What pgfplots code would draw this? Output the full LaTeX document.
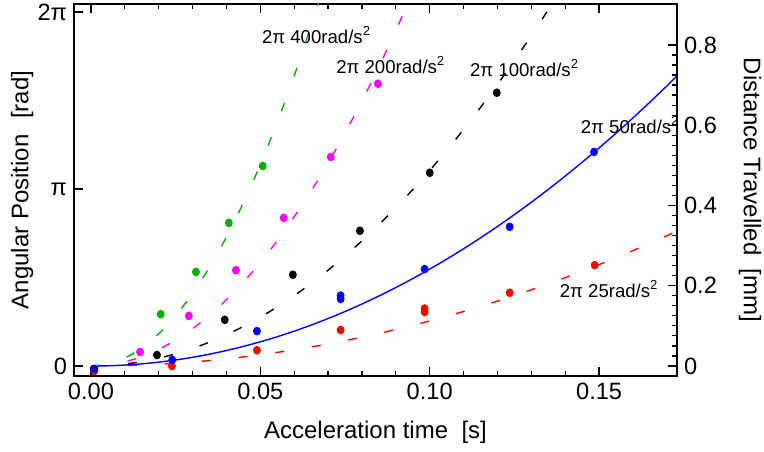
\documentclass[border=0pt]{standalone}
\usepackage{fontspec}
\setmainfont{Liberation Sans}
\usepackage{pgfplots}
\pgfplotsset{compat=1.18}
\definecolor{mgreen}{RGB}{0,175,0}
\definecolor{mmag}{RGB}{255,0,255}

\pgfplotsset{
  common/.style={scale only axis, width=301.5pt, height=186pt,
    xmin=-0.005, xmax=0.173,
    axis line style={line width=1pt},
    tick align=inside,
    major tick length=4.5pt, minor tick length=2.5pt,
    tick style={black, line width=0.6pt},
    tick label style={font=\fontsize{11.8}{14}\selectfont},
    label style={font=\fontsize{12}{14}\selectfont},
    /pgf/number format/assume math mode=true},
  dcurve/.style={line width=0.7pt, dash pattern=on 4.5pt off 14pt, smooth},
  dots/.style={only marks, mark=*, mark size=1.95pt, mark options={xscale=0.9}},
}
\tikzset{note/.style={anchor=west, inner sep=0pt, font=\fontsize{9.3}{11}\selectfont}}

\begin{document}
\begin{tikzpicture}
\begin{axis}[common, name=ax,
  ymin=-0.177, ymax=6.425,
  xtick pos=both, ytick pos=left,
  xtick={0,0.05,0.1,0.15}, minor x tick num=4,
  scaled x ticks=false,
  xticklabel style={/pgf/number format/.cd, fixed, fixed zerofill, precision=2},
  ytick={0,3.14159,6.28319}, yticklabels={0,π,2π}, minor y tick num=17,
  xlabel={Acceleration time\ \ [s]},
  ylabel={Angular Position\hspace{0.65em}[rad]},
  xlabel style={at={(axis description cs:0.5,-0.15)}, anchor=center},
  ylabel style={at={(axis description cs:-0.086,0.5)}, anchor=center},
]
% fitted curves
\addplot[red, dcurve] coordinates {(0,0) (0.005,0.002) (0.01,0.008) (0.015,0.018) (0.02,0.032) (0.025,0.05) (0.03,0.072) (0.035,0.098) (0.04,0.128) (0.045,0.162) (0.05,0.2) (0.055,0.242) (0.06,0.288) (0.065,0.338) (0.07,0.392) (0.075,0.45) (0.08,0.512) (0.085,0.578) (0.09,0.648) (0.095,0.722) (0.1,0.8) (0.105,0.882) (0.11,0.968) (0.115,1.058) (0.12,1.152) (0.125,1.25) (0.13,1.352) (0.135,1.458) (0.14,1.568) (0.145,1.682) (0.15,1.8) (0.155,1.922) (0.16,2.048) (0.165,2.178) (0.17,2.312) (0.175,2.45)};
\addplot[blue, line width=0.7pt, smooth] coordinates {(0,0) (0.005,0.0043) (0.01,0.0172) (0.015,0.0387) (0.02,0.0688) (0.025,0.1075) (0.03,0.1548) (0.035,0.2107) (0.04,0.2752) (0.045,0.3483) (0.05,0.43) (0.055,0.5203) (0.06,0.6192) (0.065,0.7267) (0.07,0.8428) (0.075,0.9675) (0.08,1.1008) (0.085,1.2427) (0.09,1.3932) (0.095,1.5523) (0.1,1.72) (0.105,1.8963) (0.11,2.0812) (0.115,2.2747) (0.12,2.4768) (0.125,2.6875) (0.13,2.9068) (0.135,3.1347) (0.14,3.3712) (0.145,3.6163) (0.15,3.87) (0.155,4.1323) (0.16,4.4032) (0.165,4.6827) (0.17,4.9708) (0.175,5.2675)};
\addplot[black, dcurve] coordinates {(0,0) (0.005,0.008675) (0.01,0.0347) (0.015,0.078075) (0.02,0.1388) (0.025,0.216875) (0.03,0.3123) (0.035,0.425075) (0.04,0.5552) (0.045,0.702675) (0.05,0.8675) (0.055,1.049675) (0.06,1.2492) (0.065,1.466075) (0.07,1.7003) (0.075,1.951875) (0.08,2.2208) (0.085,2.507075) (0.09,2.8107) (0.095,3.131675) (0.1,3.47) (0.105,3.825675) (0.11,4.1987) (0.115,4.589075) (0.12,4.9968) (0.125,5.421875) (0.13,5.8643) (0.135,6.324075) (0.14,6.8012)};
\addplot[mmag, dcurve] coordinates {(0,0) (0.005,0.018375) (0.01,0.0735) (0.015,0.165375) (0.02,0.294) (0.025,0.459375) (0.03,0.6615) (0.035,0.900375) (0.04,1.176) (0.045,1.488375) (0.05,1.8375) (0.055,2.223375) (0.06,2.646) (0.065,3.105375) (0.07,3.6015) (0.075,4.134375) (0.08,4.704) (0.085,5.310375) (0.09,5.9535) (0.095,6.633375)};
\addplot[mgreen, dcurve] coordinates {(0,0) (0.005,0.03575) (0.01,0.143) (0.015,0.32175) (0.02,0.572) (0.025,0.89375) (0.03,1.287) (0.035,1.75175) (0.04,2.288) (0.045,2.89575) (0.05,3.575) (0.055,4.32575) (0.06,5.148) (0.065,6.04175) (0.07,7.007)};
% measured points
\addplot[red, dots] coordinates {(0.001,-0.09) (0.0239,0.0) (0.049,0.28) (0.0737,0.64) (0.0985,0.96) (0.0985,1.02) (0.1236,1.30) (0.1487,1.79)};
\addplot[blue, dots] coordinates {(0.001,-0.05) (0.024,0.11) (0.049,0.62) (0.0737,1.19) (0.0737,1.25) (0.0985,1.72) (0.1236,2.47) (0.1485,3.80)};
\addplot[black, dots] coordinates {(0.0195,0.195) (0.0395,0.82) (0.0596,1.62) (0.0794,2.40) (0.1,3.43) (0.1198,4.85)};
\addplot[mmag, dots] coordinates {(0.0145,0.25) (0.0289,0.89) (0.0428,1.70) (0.0569,2.63) (0.0708,3.71) (0.0847,5.01)};
\addplot[mgreen, dots] coordinates {(0.0206,0.92) (0.031,1.67) (0.0407,2.54) (0.0507,3.55)};
% labels
\node[note] at (axis cs:0.0504,5.875) {2π 400rad/s\textsuperscript{2}};
\node[note] at (axis cs:0.0723,5.34) {2π 200rad/s\textsuperscript{2}};
\node[note] at (axis cs:0.1118,5.29) {2π 100rad/s\textsuperscript{2}};
\node[note] at (axis cs:0.1445,4.28) {2π 50rad/s\textsuperscript{2}};
\node[note] at (axis cs:0.1383,1.37) {2π 25rad/s\textsuperscript{2}};
\end{axis}
\begin{axis}[common,
  ymin=-0.025, ymax=0.902,
  axis x line=none, axis y line*=right,
  ytick={0,0.2,0.4,0.6,0.8}, minor y tick num=7,
  yticklabel style={/pgf/number format/fixed},
  ylabel={Distance Travelled\ \ [mm]},
  ylabel style={at={(axis description cs:1.121,0.5)}, anchor=center, rotate=180},
]
\end{axis}
\pgfresetboundingbox
\path (ax.south west) ++(-37pt,-37.5pt) rectangle ++(382pt,225.5pt);
\end{tikzpicture}
\end{document}
